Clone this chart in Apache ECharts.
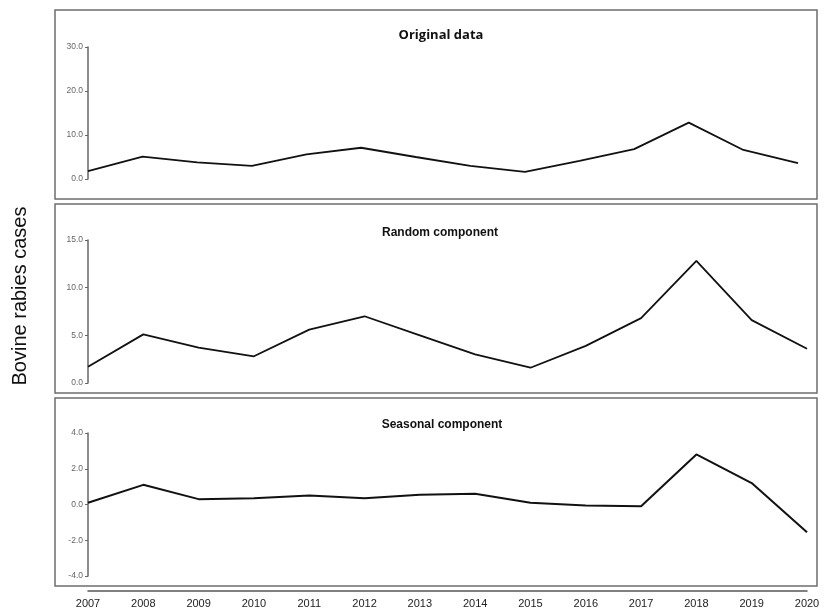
<!DOCTYPE html>
<html>
<head>
<meta charset="utf-8">
<script src="https://cdn.jsdelivr.net/npm/echarts@6/dist/echarts.min.js"></script>
<style>html,body{margin:0;padding:0;background:#fff}#c{width:826px;height:611px}</style>
</head>
<body>
<div id="c"></div>
<script>
var years = ['2007','2008','2009','2010','2011','2012','2013','2014','2015','2016','2017','2018','2019','2020'];
var originalData = [1.8, 5.1, 3.8, 3.0, 5.6, 7.1, 5.0, 3.0, 1.6, 4.1, 6.8, 12.8, 6.6, 3.6];
var randomComponent = [1.7, 5.1, 3.7, 2.8, 5.6, 7.0, 5.0, 3.0, 1.6, 3.9, 6.8, 12.8, 6.6, 3.6];
var seasonalComponent = [0.1, 1.1, 0.3, 0.35, 0.5, 0.35, 0.55, 0.6, 0.1, -0.05, -0.1, 2.8, 1.2, -1.55];
var panelTitles = ['Original data', 'Random component', 'Seasonal component'];
var yTitle = 'Bovine rabies cases';

var chart = echarts.init(document.getElementById('c'), null, {renderer: 'canvas'});

function yAx(idx, min, max, interval) {
  return {
    type: 'value', gridIndex: idx, min: min, max: max, interval: interval,
    axisLine: {show: true, lineStyle: {color: '#666', width: 1.5}},
    axisTick: {show: true, length: 3, lineStyle: {color: '#666', width: 1}},
    splitLine: {show: false},
    axisLabel: {color: '#666', fontSize: 8.5, fontFamily: 'Liberation Sans', margin: 5,
      formatter: function (v) { return v.toFixed(1); }}
  };
}
function xAx(idx, showLabels) {
  return {
    type: 'category', gridIndex: idx, data: years, boundaryGap: false,
    position: 'bottom', offset: showLabels ? 15 : 0,
    axisLine: {show: showLabels, onZero: false, lineStyle: {color: '#555', width: 1.5}},
    axisTick: {show: false},
    axisLabel: {show: showLabels, color: '#222', fontSize: 11, fontFamily: 'Liberation Sans', margin: 7, interval: 0},
    splitLine: {show: false}
  };
}
function frame(top, h) {
  return {type: 'rect', shape: {x: 55, y: top, width: 762, height: h},
    style: {fill: null, stroke: '#6e6e6e', lineWidth: 1.5}, silent: true};
}
function lineSeries(idx, data, w) {
  return {type: 'line', xAxisIndex: idx, yAxisIndex: idx, data: data, symbol: 'none',
    lineStyle: {color: '#111', width: w}, animation: false};
}

chart.setOption({
  animation: false,
  title: [
    {text: panelTitles[0], left: 436, top: 24, textAlign: 'center',
      textStyle: {fontSize: 13, fontWeight: 'bold', fontFamily: 'Open Sans', color: '#111'}},
    {text: panelTitles[1], left: 435, top: 222, textAlign: 'center',
      textStyle: {fontSize: 12, fontWeight: 'bold', fontFamily: 'Liberation Sans', color: '#111'}},
    {text: panelTitles[2], left: 437, top: 414, textAlign: 'center',
      textStyle: {fontSize: 12, fontWeight: 'bold', fontFamily: 'Liberation Sans', color: '#111'}}
  ],
  grid: [
    {left: 88, top: 47, width: 710, height: 132},
    {left: 88, top: 240, width: 719, height: 143},
    {left: 88, top: 433, width: 719, height: 143}
  ],
  xAxis: [xAx(0, false), xAx(1, false), xAx(2, true)],
  yAxis: [yAx(0, 0, 30, 10), yAx(1, 0, 15, 5), yAx(2, -4, 4, 2)],
  series: [
    lineSeries(0, originalData, 1.8),
    lineSeries(1, randomComponent, 1.8),
    lineSeries(2, seasonalComponent, 2)
  ],
  graphic: [
    frame(10, 189), frame(204, 189), frame(398, 188),
    {type: 'text', x: 20, y: 296, rotation: Math.PI / 2,
      style: {text: yTitle, fontSize: 20, fontFamily: 'Liberation Sans', fill: '#111',
        align: 'center', verticalAlign: 'middle'}}
  ]
});
</script>
</body>
</html>
